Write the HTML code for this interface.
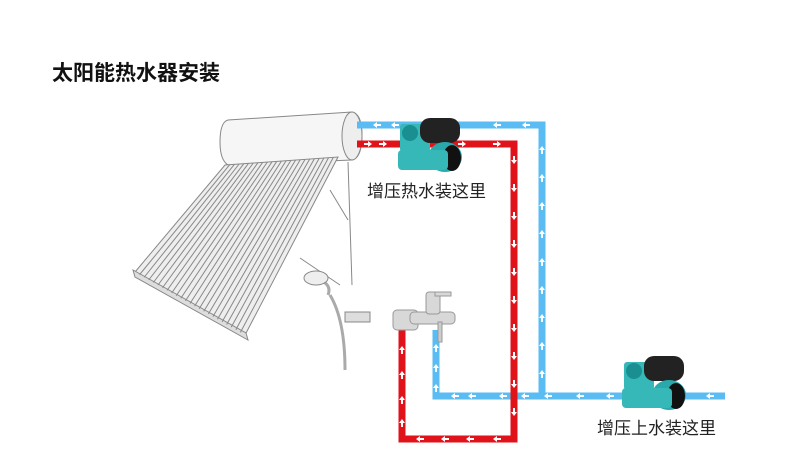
<!DOCTYPE html>
<html><head><meta charset="utf-8"><style>
body{margin:0;width:790px;height:468px;background:#fff;overflow:hidden;position:relative;font-family:"Liberation Sans","Noto Sans CJK SC",sans-serif}
.t{position:absolute;left:52px;top:57px;font-size:21px;font-weight:bold;color:#111}
.l{position:absolute;font-size:17px;color:#222}
</style></head><body>
<div class="t">太阳能热水器安装</div>
<svg width="790" height="468" style="position:absolute;left:0;top:0">
<g id="sol" stroke="#888" fill="none" stroke-width="1">
<path d="M228 120 L352 112 Q362 114 362 135 Q362 158 352 160 L228 165 Q220 160 220 142 Q220 122 228 120Z" fill="#f6f6f6"/>
<ellipse cx="352" cy="136" rx="10" ry="24" fill="#eee"/>
<path d="M225 165 L338 157 L245 335 L135 272Z" fill="#eee"/>
<path d="M133 270 L246 333 L248 340 L135 277Z" fill="#ddd"/>
<line x1="348" y1="162" x2="352" y2="285"/><line x1="340" y1="285" x2="300" y2="258"/>
<line x1="330" y1="190" x2="348" y2="220"/>
<path d="M320 280 Q332 285 328 295 M330 295 Q345 320 345 370" stroke="#aaa" stroke-width="3"/>
<ellipse cx="316" cy="278" rx="12" ry="7" fill="#eee"/>
<rect x="345" y="312" width="25" height="10" fill="#ddd"/>
</g>
<g fill="none" stroke-width="7">
<polyline points="357,125 542,125 542,396 436,396 436,330" stroke="#5bbcf3"/>
<line x1="542" y1="396" x2="725" y2="396" stroke="#5bbcf3"/>
<polyline points="357,144 514,144 514,439 402,439 402,330" stroke="#e0131b"/>
</g>
<g id="arr" fill="#fff"></g>
<g>
<rect x="400" y="124" width="30" height="28" fill="#36b7b8" rx="3"/>
<ellipse cx="410" cy="133" rx="8" ry="8" fill="#1a8f92"/>
<rect x="420" y="118" width="40" height="25" rx="10" fill="#222"/>
<ellipse cx="445" cy="157" rx="17" ry="15" fill="#2aa9ad"/>
<ellipse cx="452" cy="158" rx="9" ry="13" fill="#111"/>
<rect x="398" y="150" width="50" height="20" fill="#36b7b8" rx="4"/>
</g>
<g>
<rect x="624" y="362" width="30" height="28" fill="#36b7b8" rx="3"/>
<ellipse cx="634" cy="371" rx="8" ry="8" fill="#1a8f92"/>
<rect x="644" y="356" width="40" height="25" rx="10" fill="#222"/>
<ellipse cx="669" cy="395" rx="17" ry="15" fill="#2aa9ad"/>
<ellipse cx="676" cy="396" rx="9" ry="13" fill="#111"/>
<rect x="622" y="388" width="50" height="20" fill="#36b7b8" rx="4"/>
</g>
<g fill="#d8d8d8" stroke="#999">
<rect x="393" y="310" width="25" height="20" rx="4"/>
<rect x="410" y="312" width="45" height="12" rx="4"/>
<rect x="426" y="292" width="14" height="22" rx="3"/>
<rect x="435" y="292" width="16" height="4"/>
<rect x="438" y="322" width="4" height="20" fill="#ccc"/>
</g>
</svg>
<div class="l" style="left:367px;top:177px">增压热水装这里</div>
<div class="l" style="left:597px;top:414px">增压上水装这里</div>
<script>
var g=document.getElementById('sol'),a=document.getElementById('arr'),ns='http://www.w3.org/2000/svg';
for(var i=1;i<24;i++){var t=i/24;var l=document.createElementNS(ns,'line');
l.setAttribute('x1',225+113*t);l.setAttribute('y1',165-8*t);l.setAttribute('x2',135+110*t);l.setAttribute('y2',272+63*t);l.setAttribute('stroke','#888');g.appendChild(l);}
function ar(x,y,d){var p=document.createElementNS(ns,'polygon');var s;
if(d=='l')s=[[x-4,y],[x,y-3],[x,y-1],[x+4,y-1],[x+4,y+1],[x,y+1],[x,y+3]];
if(d=='r')s=[[x+4,y],[x,y-3],[x,y-1],[x-4,y-1],[x-4,y+1],[x,y+1],[x,y+3]];
if(d=='u')s=[[x,y-4],[x-3,y],[x-1,y],[x-1,y+4],[x+1,y+4],[x+1,y],[x+3,y]];
if(d=='d')s=[[x,y+4],[x-3,y],[x-1,y],[x-1,y-4],[x+1,y-4],[x+1,y],[x+3,y]];
p.setAttribute('points',s.join(' '));a.appendChild(p);}
[377,395,497,526].forEach(function(x){ar(x,125,'l')});
for(var y=150;y<390;y+=28)ar(542,y,'u');
[710,695,610,580,548,525,503,472,455].forEach(function(x){if(x<620||x>700)ar(x,396,'l')});
[348,368,388].forEach(function(y){ar(436,y,'u')});
[368,383,462,497].forEach(function(x){ar(x,144,'r')});
for(var y=160;y<435;y+=28)ar(514,y,'d');
[420,445,470,497].forEach(function(x){ar(x,439,'l')});
[350,375,400,423].forEach(function(y){ar(402,y,'u')});
</script>
</body></html>
